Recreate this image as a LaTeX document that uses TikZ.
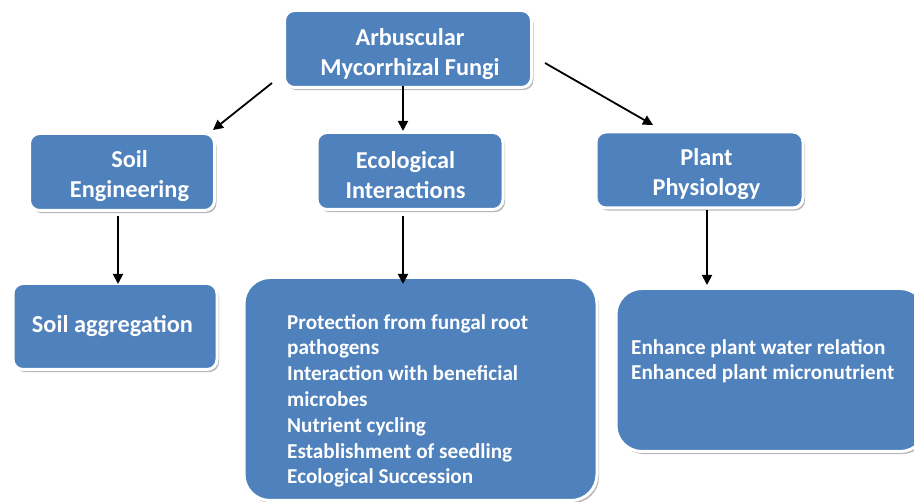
\documentclass[tikz,border=0pt]{standalone}
\usepackage{fontspec}
\setmainfont{Carlito}
\usetikzlibrary{shadows,arrows.meta}
\definecolor{boxblue}{HTML}{4F81BD}
\tikzset{
  x=1pt, y=-1pt,
  box/.style={rectangle, rounded corners=#1, fill=boxblue, draw=white, line width=3pt,
    inner sep=0pt, drop shadow={shadow xshift=2pt, shadow yshift=-2.6pt, fill=black!40, opacity=.7}},
  box/.default=10pt,
  hdr/.style={text=white, font=\bfseries\fontsize{24.3}{29.7}\selectfont, align=center, inner sep=0pt},
  body/.style={text=white, font=\bfseries\fontsize{21.2}{25.8}\selectfont, align=left, inner sep=0pt},
  arr/.style={-{Triangle[length=10pt,width=10pt]}, line width=1.8pt, black},
}
\begin{document}
\begin{tikzpicture}
\useasboundingbox (0,0) rectangle (914,502);
% boxes
\node[box, minimum width=247pt, minimum height=77pt] (top) at (408,49) {};
\node[box, minimum width=185pt, minimum height=77pt] (soil) at (122,172) {};
\node[box, minimum width=186pt, minimum height=77pt] (eco) at (410,171) {};
\node[box, minimum width=207pt, minimum height=76pt] (plant) at (699.5,170) {};
\node[box, minimum width=204pt, minimum height=86pt] (agg) at (115,326.5) {};
\node[box=26pt, minimum width=353pt, minimum height=223pt] (ecobig) at (420.5,389) {};
\node[box=26pt, minimum width=310pt, minimum height=163pt] (plantbig) at (771,370) {};
% texts
\node[hdr] (toptext) at (410,54) {Arbuscular\\Mycorrhizal Fungi};
\node[hdr] (soiltext) at (129.5,176) {Soil\\Engineering};
\node[hdr] (ecotext) at (405.5,175) {Ecological\\Interactions};
\node[hdr] (planttext) at (706.5,174) {Plant\\Physiology};
\node[hdr] (aggtext) at (112.5,326) {Soil aggregation};
\node[body, anchor=north west] (ecobody) at (287,314) {Protection from fungal root\\pathogens\\Interaction with beneficial\\microbes\\Nutrient cycling\\Establishment of seedling\\Ecological Succession};
\node[body, anchor=north west] (plantbody) at (631,339) {Enhance plant water relation\\Enhanced plant micronutrient};
% connector ends
\coordinate (s1) at (272,83);  \coordinate (e1) at (213,130);
\coordinate (s2) at (403,86);  \coordinate (e2) at (403,131);
\coordinate (s3) at (545,63);  \coordinate (e3) at (653,125);
\coordinate (s4) at (118,216); \coordinate (e4) at (118,284);
\coordinate (s5) at (403,216); \coordinate (e5) at (403,284);
\coordinate (s6) at (707,210); \coordinate (e6) at (707,285);
\draw[arr] (s1) -- (e1);
\draw[arr] (s2) -- (e2);
\draw[arr] (s3) -- (e3);
\draw[arr] (s4) -- (e4);
\draw[arr] (s5) -- (e5);
\draw[arr] (s6) -- (e6);
\end{tikzpicture}
\end{document}
